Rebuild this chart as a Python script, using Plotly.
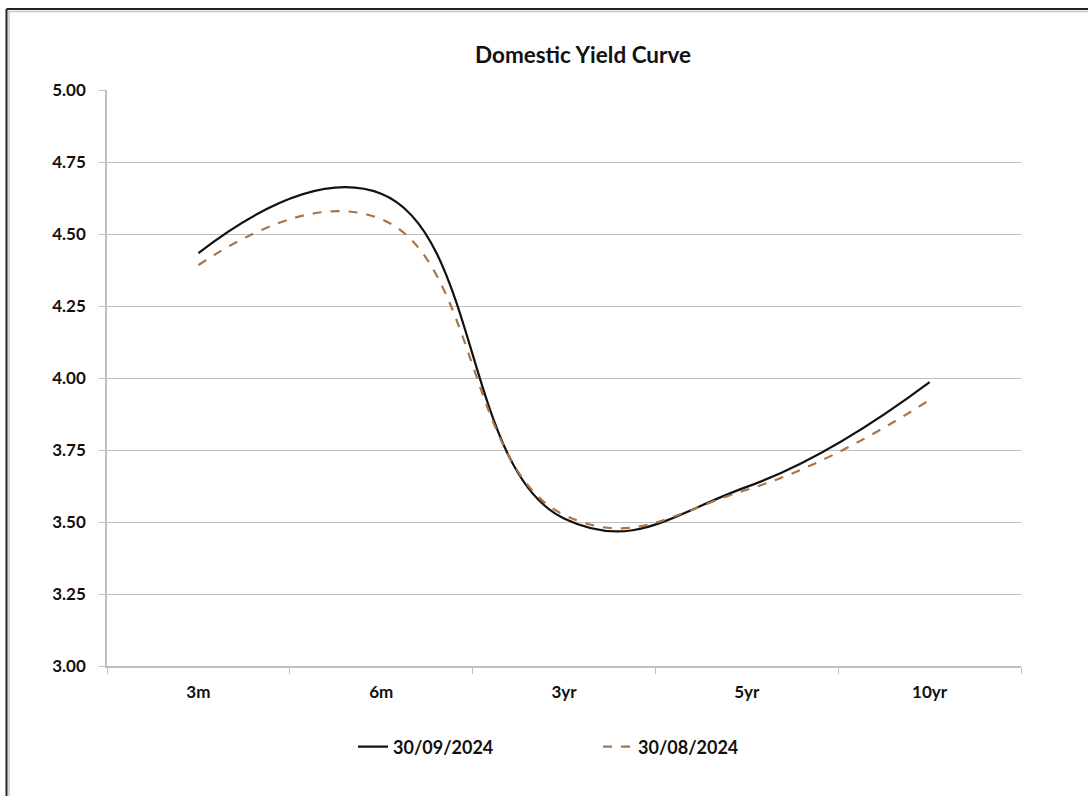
import plotly.graph_objects as go

categories = ["3m", "6m", "3yr", "5yr", "10yr"]
series_sep = [4.434, 4.640, 3.512, 3.622, 3.986]
series_aug = [4.392, 4.552, 3.525, 3.612, 3.924]
names = ["30/09/2024", "30/08/2024"]
y_ticks = [3.00, 3.25, 3.50, 3.75, 4.00, 4.25, 4.50, 4.75, 5.00]

W, H = 1088, 796
L, R, T, B = 107, 1021, 90, 666
pw, ph = R - L, B - T

fig = go.Figure()
fig.add_trace(go.Scatter(
    x=categories, y=series_sep, name=f"<b>{names[0]}</b>", mode="lines",
    line=dict(color="#111111", width=2.2, shape="spline", smoothing=1.3),
))
fig.add_trace(go.Scatter(
    x=categories, y=series_aug, name=f"<b>{names[1]}</b>", mode="lines",
    line=dict(color="#A8754A", width=2.2, shape="spline", smoothing=1.3, dash="dash"),
))

font_family = "Lato, 'Open Sans', sans-serif"

fig.update_layout(
    width=W, height=H,
    margin=dict(l=L, r=W - R, t=T, b=H - B),
    paper_bgcolor="white", plot_bgcolor="white",
    font=dict(family=font_family, color="#111111"),
    title=dict(text="<b>Domestic Yield Curve</b>", x=(583 - L) / pw, xref="paper",
               xanchor="center", y=1 - 55 / H, yanchor="middle",
               font=dict(size=22.5, family=font_family, color="#111111")),
    showlegend=True,
    legend=dict(orientation="h", x=(598 - L) / pw, xanchor="center", y=-(747 - B) / ph,
                yanchor="middle", font=dict(size=18, family=font_family, color="#111111"),
                itemwidth=30, entrywidth=200, entrywidthmode="pixels", tracegroupgap=0),
    xaxis=dict(
        type="category", range=[-0.5, 4.5], showgrid=False,
        showline=True, linecolor="#BFBFBF", linewidth=1.5,
        ticks="outside", tickson="boundaries", ticklen=6, tickcolor="#BFBFBF",
        tickfont=dict(size=17, family=font_family, color="#111111"),
        ticklabelstandoff=10, zeroline=False,
    ),
    yaxis=dict(
        range=[3.0, 5.0], tickvals=y_ticks,
        ticktext=[f"<b>{v:.2f}</b>" for v in y_ticks],
        showgrid=True, gridcolor="#BFBFBF", gridwidth=1.2,
        showline=True, linecolor="#BFBFBF", linewidth=1.5,
        ticks="outside", ticklen=6, tickcolor="#BFBFBF",
        tickfont=dict(size=17, family=font_family, color="#111111"),
        ticklabelstandoff=10, zeroline=False,
    ),
)
fig.update_xaxes(ticktext=[f"<b>{c}</b>" for c in categories], tickvals=categories)

# outer chart border (top and left edges visible)
x_left = (6.5 - L) / pw
y_top = 1 + (T - 9) / ph
fig.add_shape(type="line", xref="paper", yref="paper", x0=x_left, x1=(W + 5 - L) / pw,
              y0=y_top, y1=y_top, line=dict(color="#222222", width=2))
fig.add_shape(type="line", xref="paper", yref="paper", x0=x_left, x1=x_left,
              y0=y_top, y1=-(H + 5 - B) / ph, line=dict(color="#222222", width=2))
fig.add_shape(type="line", xref="paper", yref="paper", x0=x_left + 2 / pw, x1=(W + 5 - L) / pw,
              y0=y_top - 2.5 / ph, y1=y_top - 2.5 / ph, line=dict(color="#C8C8C8", width=1.5))
fig.add_shape(type="line", xref="paper", yref="paper", x0=x_left + 2.5 / pw, x1=x_left + 2.5 / pw,
              y0=y_top - 2 / ph, y1=-(H + 5 - B) / ph, line=dict(color="#C8C8C8", width=1.5))

fig.write_html("out.html")
